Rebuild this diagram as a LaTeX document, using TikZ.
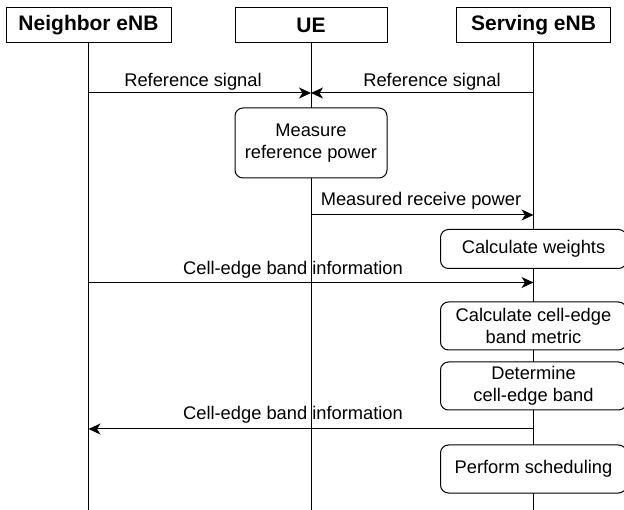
\documentclass[tikz,border=0pt]{standalone}
\usepackage{fontspec}
\setmainfont{Liberation Sans}
\usetikzlibrary{arrows.meta,positioning}

\tikzset{
  actor/.style = {draw, minimum height = 35pt, inner sep = 0pt, font = \bfseries\fontsize{21}{25}\selectfont},
  proc/.style = {draw, fill = white, rounded corners = 8pt, align = center, inner sep = 0pt, font = \fontsize{18.3}{22.5}\selectfont},
  msg/.style = {-{Stealth[length = 12pt, width = 11pt, inset = 3.5pt]}},
  lbl/.style = {inner sep = 0pt, anchor = base, font = \fontsize{18.3}{22}\selectfont}
}

\begin{document}
\begin{tikzpicture}[x=1pt,y=-1pt,line width=1pt]

\useasboundingbox (0,0) rectangle (624,510) ;

\node[actor, minimum width = 165pt] (nb) at (88.5,25) {Neighbor eNB} ;
\node[actor, minimum width = 152pt] (ue) at (311,25) {UE} ;
\node[actor, minimum width = 154pt] (se) at (533.5,25) {Serving eNB} ;

% lifelines
\coordinate (nb end) at (nb.south |- 0,515) ;
\coordinate (ue end) at (ue.south |- 0,515) ;
\coordinate (se end) at (se.south |- 0,515) ;
\draw (nb.south) -- (nb end) ;
\draw (ue.south) -- (ue end) ;
\draw (se.south) -- (se end) ;

\node[proc, minimum width = 152pt, minimum height = 70pt] (meas) at (311,143) {Measure\\reference power} ;
\node[proc, minimum width = 186pt, minimum height = 39pt] (weights) at (533.5,249) {Calculate weights} ;
\node[proc, minimum width = 186pt, minimum height = 48pt] (metric) at (533.5,326) {Calculate cell-edge\\band metric} ;
\node[proc, minimum width = 186pt, minimum height = 48pt] (band) at (533.5,386) {Determine\\cell-edge band} ;
\node[proc, minimum width = 186pt, minimum height = 48pt] (sched) at (533.5,469) {Perform scheduling} ;

% messages
\coordinate (nb rs) at (nb |- 0,93) ;
\coordinate (ue rs) at (ue |- 0,93) ;
\coordinate (se rs) at (se |- 0,93) ;
\draw[msg] (nb rs) -- (ue rs) ;
\draw[msg] (se rs) -- (ue rs) ;
\node[lbl] (rs nb lbl) at (193,86.5) {Reference signal} ;
\node[lbl] (rs se lbl) at (432,86.5) {Reference signal} ;

\coordinate (ue mp) at (ue |- 0,215) ;
\coordinate (se mp) at (se |- 0,215) ;
\draw[msg] (ue mp) -- (se mp) ;
\node[lbl] (mp lbl) at (421,206) {Measured receive power} ;

\coordinate (nb cb) at (nb |- 0,282.5) ;
\coordinate (se cb) at (se |- 0,282.5) ;
\draw[msg] (nb cb) -- (se cb) ;
\node[lbl] (cb lbl) at (293,274.5) {Cell-edge band information} ;

\coordinate (se cb2) at (se |- 0,429) ;
\coordinate (nb cb2) at (nb |- 0,429) ;
\draw[msg] (se cb2) -- (nb cb2) ;
\node[lbl] (cb2 lbl) at (293,420) {Cell-edge band information} ;

\end{tikzpicture}
\end{document}
